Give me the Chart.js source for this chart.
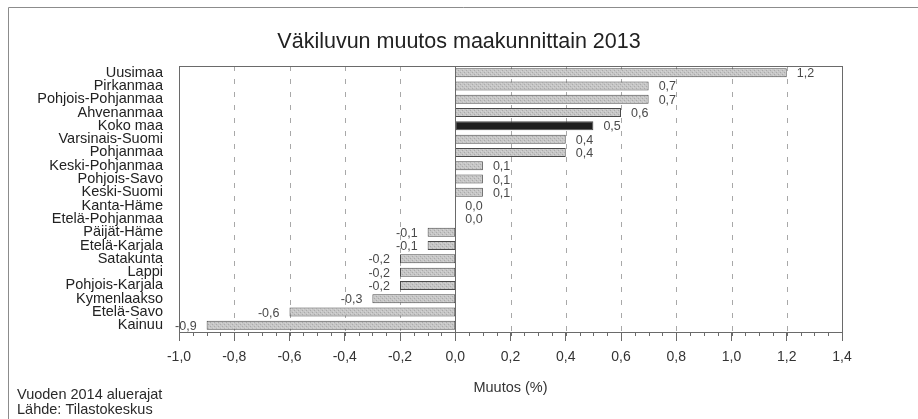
<!DOCTYPE html>
<html>
<head>
<meta charset="utf-8">
<script src="https://cdn.jsdelivr.net/npm/chart.js@4.4.1/dist/chart.umd.min.js"></script>
<style>
  html, body { margin: 0; padding: 0; background: #fff; }
  #wrap { width: 918px; height: 419px; }
</style>
</head>
<body>
<div id="wrap"><canvas id="kuvio" width="918" height="419"></canvas></div>
<script>
// --- DATA ---
const maakunnat = ['Uusimaa', 'Pirkanmaa', 'Pohjois-Pohjanmaa', 'Ahvenanmaa', 'Koko maa',
  'Varsinais-Suomi', 'Pohjanmaa', 'Keski-Pohjanmaa', 'Pohjois-Savo', 'Keski-Suomi',
  'Kanta-Häme', 'Etelä-Pohjanmaa', 'Päijät-Häme', 'Etelä-Karjala', 'Satakunta',
  'Lappi', 'Pohjois-Karjala', 'Kymenlaakso', 'Etelä-Savo', 'Kainuu'];
const muutos = [1.2, 0.7, 0.7, 0.6, 0.5, 0.4, 0.4, 0.1, 0.1, 0.1,
  0.0, 0.0, -0.1, -0.1, -0.2, -0.2, -0.2, -0.3, -0.6, -0.9];
const korostettu = 'Koko maa';
const xMin = -1.0;
const xMax = 1.4;
const xAskel = 0.2;
const otsikko = 'Väkiluvun muutos maakunnittain 2013';
const akseliOtsikko = 'Muutos (%)';
const alaviitteet = ['Vuoden 2014 aluerajat', 'Lähde: Tilastokeskus'];

const FONTTI = 'Liberation Sans, Arial, sans-serif';

// pilkku desimaalierottimena
const muotoile = (v) => (Math.abs(v) < 1e-9 ? 0 : v).toFixed(1).replace('.', ',');

// harmaa rasterikuvio pylväisiin
function teeKuvio() {
  const c = document.createElement('canvas');
  c.width = 4; c.height = 4;
  const g = c.getContext('2d');
  g.fillStyle = '#c6c6c6';
  g.fillRect(0, 0, 4, 4);
  g.fillStyle = '#aaaaaa';
  g.fillRect(0, 0, 1, 1);
  g.fillRect(2, 2, 1, 1);
  g.fillStyle = '#d4d4d4';
  g.fillRect(1, 3, 1, 1);
  g.fillRect(3, 1, 1, 1);
  return g.createPattern(c, 'repeat');
}

// otsikko, ruudukko, kehys, sivuviivat ja tekstit
const kehysPlugin = {
  id: 'kehys',
  beforeDatasetsDraw(chart) {
    const { ctx, chartArea: a, scales: { x } } = chart;
    ctx.save();
    ctx.lineWidth = 1;
    ctx.strokeStyle = '#a8a8a8';
    ctx.setLineDash([5, 8]);
    for (let v = xMin + xAskel; v < xMax - 1e-6; v += xAskel) {
      if (Math.abs(v) < 1e-6) continue;
      const px = Math.round(x.getPixelForValue(v)) + 0.5;
      ctx.beginPath();
      ctx.moveTo(px, a.top);
      ctx.lineTo(px, a.bottom);
      ctx.stroke();
    }
    ctx.restore();
  },
  afterDatasetsDraw(chart) {
    const { ctx, chartArea: a, scales: { x } } = chart;
    ctx.save();
    ctx.lineWidth = 1;
    ctx.strokeStyle = '#6a6a6a';
    ctx.strokeRect(Math.round(a.left) + 0.5, Math.round(a.top) + 0.5,
      Math.round(a.right - a.left), Math.round(a.bottom - a.top));
    // nollaviiva
    const x0 = Math.round(x.getPixelForValue(0)) + 0.5;
    ctx.beginPath();
    ctx.moveTo(x0, a.top);
    ctx.lineTo(x0, a.bottom);
    ctx.stroke();
    // pienet jakoviivat
    for (let v = xMin; v <= xMax + 1e-6; v += xAskel / 4) {
      const px = Math.round(x.getPixelForValue(v)) + 0.5;
      ctx.beginPath();
      ctx.moveTo(px, a.bottom);
      ctx.lineTo(px, a.bottom + 4);
      ctx.stroke();
    }
    // arvot pylväiden päihin
    const meta = chart.getDatasetMeta(0);
    ctx.font = '12.5px ' + FONTTI;
    ctx.fillStyle = '#4a4a4a';
    ctx.textBaseline = 'middle';
    meta.data.forEach((bar, i) => {
      const v = muutos[i];
      if (v >= 0) {
        ctx.textAlign = 'left';
        ctx.fillText(muotoile(v), bar.x + 10, bar.y + 1);
      } else {
        ctx.textAlign = 'right';
        ctx.fillText(muotoile(v), bar.x - 10, bar.y + 1);
      }
    });
    // ulkokehys
    ctx.strokeStyle = '#8c8c8c';
    ctx.beginPath();
    ctx.moveTo(918, 7.5);
    ctx.lineTo(8.5, 7.5);
    ctx.lineTo(8.5, 419);
    ctx.stroke();
    // otsikko
    ctx.font = '21.5px ' + FONTTI;
    ctx.fillStyle = '#222';
    ctx.textAlign = 'center';
    ctx.fillText(otsikko, 459, 42);
    // alaviitteet
    ctx.font = '14.5px ' + FONTTI;
    ctx.fillStyle = '#2a2a2a';
    ctx.textAlign = 'left';
    ctx.fillText(alaviitteet[0], 17, 395);
    ctx.fillText(alaviitteet[1], 17, 410);
    ctx.restore();
  }
};

const kuvio = teeKuvio();

new Chart(document.getElementById('kuvio'), {
  type: 'bar',
  data: {
    labels: maakunnat,
    datasets: [{
      data: muutos,
      backgroundColor: maakunnat.map(m => m === korostettu ? '#1f1f1f' : kuvio),
      borderColor: '#4a4a4a',
      borderWidth: 1,
      borderSkipped: false,
      barPercentage: 0.68,
      categoryPercentage: 1.0
    }]
  },
  options: {
    indexAxis: 'y',
    responsive: false,
    devicePixelRatio: 1,
    animation: false,
    layout: { padding: { top: 66, right: 76, bottom: 0, left: 0 } },
    plugins: {
      legend: { display: false },
      tooltip: { enabled: false },
      title: { display: false }
    },
    scales: {
      x: {
        type: 'linear',
        min: xMin,
        max: xMax,
        afterFit(scale) { scale.height = 87; },
        ticks: {
          stepSize: xAskel,
          padding: 8,
          color: '#333',
          font: { family: FONTTI, size: 14 },
          callback: (v) => muotoile(v)
        },
        grid: {
          drawOnChartArea: false,
          drawTicks: true,
          tickLength: 9,
          tickColor: '#6a6a6a',
          color: '#6a6a6a'
        },
        border: { display: false },
        title: {
          display: true,
          text: akseliOtsikko,
          color: '#333',
          font: { family: FONTTI, size: 14.5 },
          padding: { top: 0, bottom: 22 }
        }
      },
      y: {
        afterFit(scale) { scale.width = 179; },
        ticks: {
          padding: 16,
          color: '#222',
          font: { family: FONTTI, size: 14.5 },
          autoSkip: false
        },
        grid: { display: false, drawTicks: false },
        border: { display: false }
      }
    }
  },
  plugins: [kehysPlugin]
});
</script>
</body>
</html>
